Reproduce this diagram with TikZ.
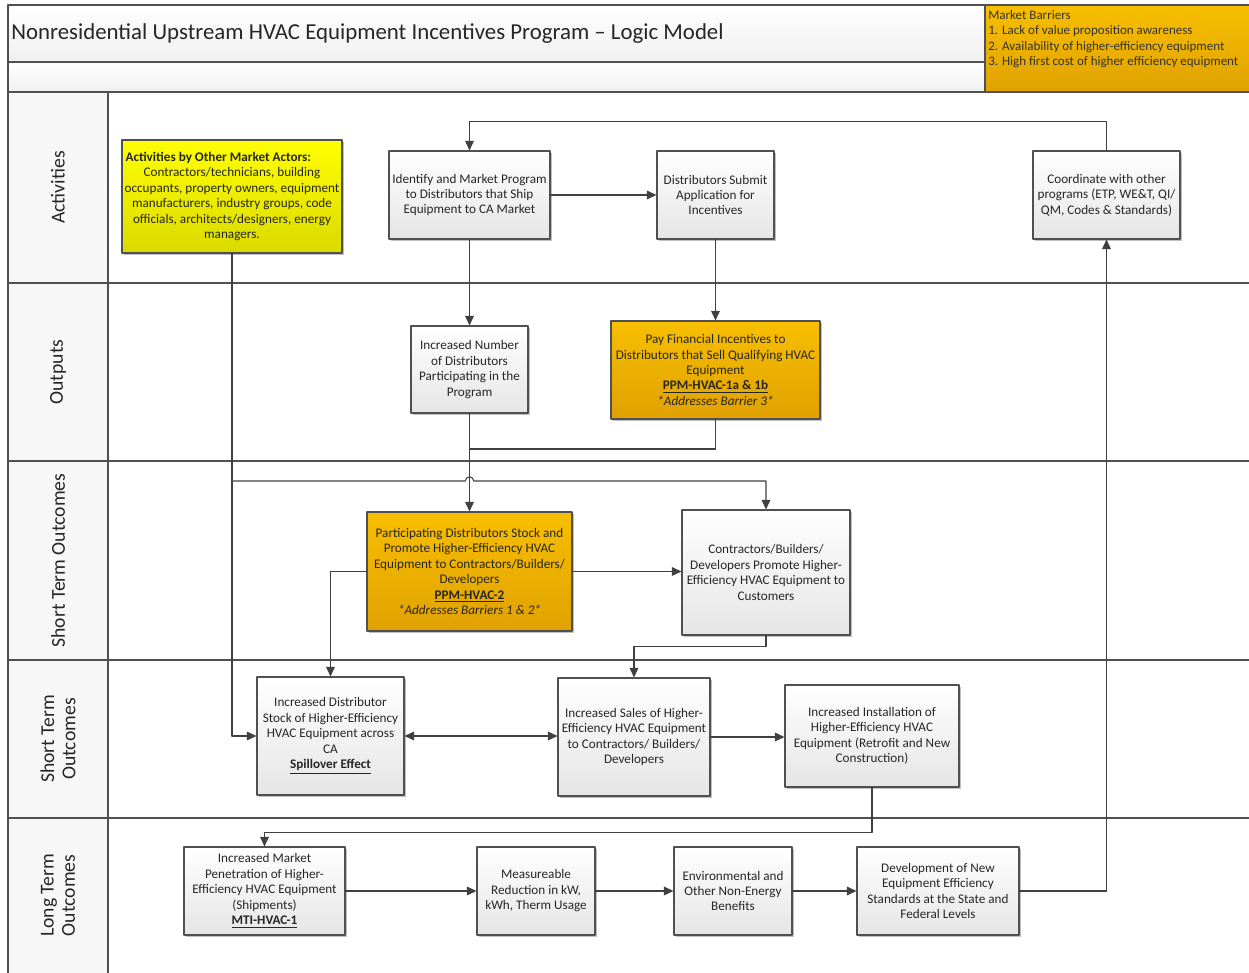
\documentclass[tikz,border=0pt]{standalone}
\usepackage{fontspec}
\setmainfont{Carlito}
\usetikzlibrary{arrows.meta,shadows}

\definecolor{linegray}{HTML}{404040}
\definecolor{boxgray}{HTML}{505050}
\definecolor{orangetop}{HTML}{F8BF00}
\definecolor{orangebot}{HTML}{E0A100}
\definecolor{yeltop}{HTML}{FFFF00}
\definecolor{yelbot}{HTML}{DADA00}

\begin{document}
\begin{tikzpicture}[
    x={(0.02cm,0cm)},
    y={(0cm,-0.02cm)},
    line cap=round,
    line join=round,
    frame/.style={draw=boxgray,line width=0.75pt},
    gbox/.style={draw=boxgray,line width=0.6pt,top color=white,bottom color=gray!20,
        drop shadow={shadow xshift=1.2pt,shadow yshift=-1.2pt,fill=black,opacity=0.25},
        align=center,inner sep=1pt,text=black!85,
        font=\fontsize{7.5}{8.8}\selectfont},
    obox/.style={gbox,top color=orangetop,bottom color=orangebot},
    ybox/.style={gbox,top color=yeltop,bottom color=yelbot},
    lane/.style={rotate=90,align=center,text=black!85,
        font=\fontsize{11.2}{12.2}\selectfont},
    line/.style={draw=linegray,line width=0.6pt},
    arr/.style={line,-{Triangle[length=5.5pt,width=5pt]}},
    arrr/.style={line,{Triangle[length=5.5pt,width=5pt]}-{Triangle[length=5.5pt,width=5pt]}}
]

\useasboundingbox (0,0) rectangle (1249,973);

% =========================================================
% Рамка и дорожки
% =========================================================

\shade[top color=white,bottom color=gray!12] (8,5) rectangle (1249,62);
\shade[top color=white,bottom color=gray!12] (8,62) rectangle (1249,92);
\fill[gray!6] (8,92) rectangle (108,973);

\draw[frame] (1249,5) -- (8,5) -- (8,973);
\foreach \y in {62,92,283,461,660,818}
    \draw[frame] (8,\y) -- (1249,\y);
\draw[frame] (108,92) -- (108,973);

% =========================================================
% Заголовок и барьеры рынка
% =========================================================

\node[anchor=west,inner sep=0pt,text=black!85,font=\fontsize{13}{15}\selectfont]
    (title) at (11,34) {Nonresidential Upstream HVAC Equipment Incentives Program -- Logic Model};

\draw[frame,line width=0.6pt,top color=orangetop,bottom color=orangebot]
    (985,5) rectangle (1252,92);
\node[anchor=north west,align=left,inner sep=0pt,text=black!80,
      font=\fontsize{7.4}{8.8}\selectfont] (barriers) at (988,10)
    {Market Barriers\\
     1. Lack of value proposition awareness\\
     2. Availability of higher-efficiency equipment\\
     3. High first cost of higher efficiency equipment};

% =========================================================
% Подписи дорожек
% =========================================================

\node[lane] (laneA) at (58,187.5) {Activities};
\node[lane] (laneO) at (58,372)   {Outputs};
\node[lane] (laneS) at (58,560.5) {Short Term Outcomes};
\node[lane] (laneT) at (58,739)   {Short Term\\Outcomes};
\node[lane] (laneL) at (58,895.5) {Long Term\\Outcomes};

% =========================================================
% Activities
% =========================================================

\node[ybox,minimum width=4.40cm,minimum height=2.26cm] (A1) at (232,196.5)
    {\makebox[4.26cm][l]{\textbf{Activities by Other Market Actors:}}\\
     Contractors/technicians, building\\
     occupants, property owners, equipment\\
     manufacturers, industry groups, code\\
     officials, architects/designers, energy\\
     managers.};
\node[gbox,minimum width=3.22cm,minimum height=1.76cm] (A2) at (469.5,195)
    {Identify and Market Program\\to Distributors that Ship\\Equipment to CA Market};
\node[gbox,minimum width=2.34cm,minimum height=1.76cm] (A3) at (715.5,195)
    {Distributors Submit\\Application for\\Incentives};
\node[gbox,minimum width=2.94cm,minimum height=1.76cm] (A4) at (1106.5,195)
    {Coordinate with other\\programs (ETP, WE\&T, QI/\\QM, Codes \& Standards)};

% =========================================================
% Outputs
% =========================================================

\node[gbox,minimum width=2.34cm,minimum height=1.74cm] (O1) at (469.5,369.5)
    {Increased Number\\of Distributors\\Participating in the\\Program};
\node[obox,minimum width=4.18cm,minimum height=1.96cm] (O2) at (715.5,370)
    {Pay Financial Incentives to\\
     Distributors that Sell Qualifying HVAC\\
     Equipment\\
     \underline{\textbf{PPM-HVAC-1a \& 1b}}\\
     \textit{*Addresses Barrier 3*}};

% =========================================================
% Short Term Outcomes
% =========================================================

\node[obox,minimum width=4.10cm,minimum height=2.38cm] (S1) at (469.5,571.5)
    {Participating Distributors Stock and\\
     Promote Higher-Efficiency HVAC\\
     Equipment to Contractors/Builders/\\
     Developers\\
     \underline{\textbf{PPM-HVAC-2}}\\
     \textit{*Addresses Barriers 1 \& 2*}};
\node[gbox,minimum width=3.36cm,minimum height=2.50cm] (S2) at (766,572.5)
    {Contractors/Builders/\\Developers Promote Higher-\\Efficiency HVAC Equipment to\\Customers};
\node[gbox,minimum width=2.94cm,minimum height=2.36cm] (S3) at (330.5,736)
    {Increased Distributor\\Stock of Higher-Efficiency\\HVAC Equipment across\\CA\\
     \underline{\textbf{Spillover Effect}}};
\node[gbox,minimum width=3.04cm,minimum height=2.36cm] (S4) at (634,737)
    {Increased Sales of Higher-\\Efficiency HVAC Equipment\\to Contractors/ Builders/\\Developers};
\node[gbox,minimum width=3.48cm,minimum height=2.04cm] (S5) at (872,736)
    {Increased Installation of\\Higher-Efficiency HVAC\\Equipment (Retrofit and New\\Construction)};

% =========================================================
% Long Term Outcomes
% =========================================================

\node[gbox,minimum width=3.22cm,minimum height=1.76cm] (L1) at (264.5,891)
    {Increased Market\\Penetration of Higher-\\Efficiency HVAC Equipment\\(Shipments)\\
     \underline{\textbf{MTI-HVAC-1}}};
\node[gbox,minimum width=2.36cm,minimum height=1.76cm] (L2) at (536,891)
    {Measureable\\Reduction in kW,\\kWh, Therm Usage};
\node[gbox,minimum width=2.36cm,minimum height=1.76cm] (L3) at (733,891)
    {Environmental and\\Other Non-Energy\\Benefits};
\node[gbox,minimum width=3.24cm,minimum height=1.76cm] (L4) at (938,891)
    {Development of New\\Equipment Efficiency\\Standards at the State and\\Federal Levels};

% =========================================================
% Связи
% =========================================================

\coordinate (J) at (469.5,449);
\coordinate (K) at (232,481);

\draw[arr] (A4.north) -- ++(0,-29) -| (A2.north);
\draw[arr] (A2.east) -- (A3.west);
\draw[arr] (A2.south) -- (O1.north);
\draw[arr] (A3.south) -- (O2.north);

\draw[line] (O2.south) |- (J);
\draw[arr] (O1.south) -- (S1.north);

\draw[arr] (A1.south) |- (S3.west);
\draw[arr] (K) -- ([xshift=-2.4pt]K -| J)
    arc[start angle=180,end angle=0,radius=2.4pt] -| (S2.north);

\draw[arr] (S1.east) -- (S1.east -| S2.west);
\draw[arr] (S1.west) -| (S3.north);
\draw[arr] (S2.south) -- ++(0,11) -| (S4.north);
\draw[arrr] (S3.east) -- (S3.east -| S4.west);
\draw[arr] (S4.east) -- (S4.east -| S5.west);
\draw[arr] (S5.south) -- ++(0,45) -| (L1.north);

\draw[arr] (L1.east) -- (L2.west);
\draw[arr] (L2.east) -- (L3.west);
\draw[arr] (L3.east) -- (L4.west);
\draw[arr] (L4.east) -| (A4.south);

\end{tikzpicture}
\end{document}
